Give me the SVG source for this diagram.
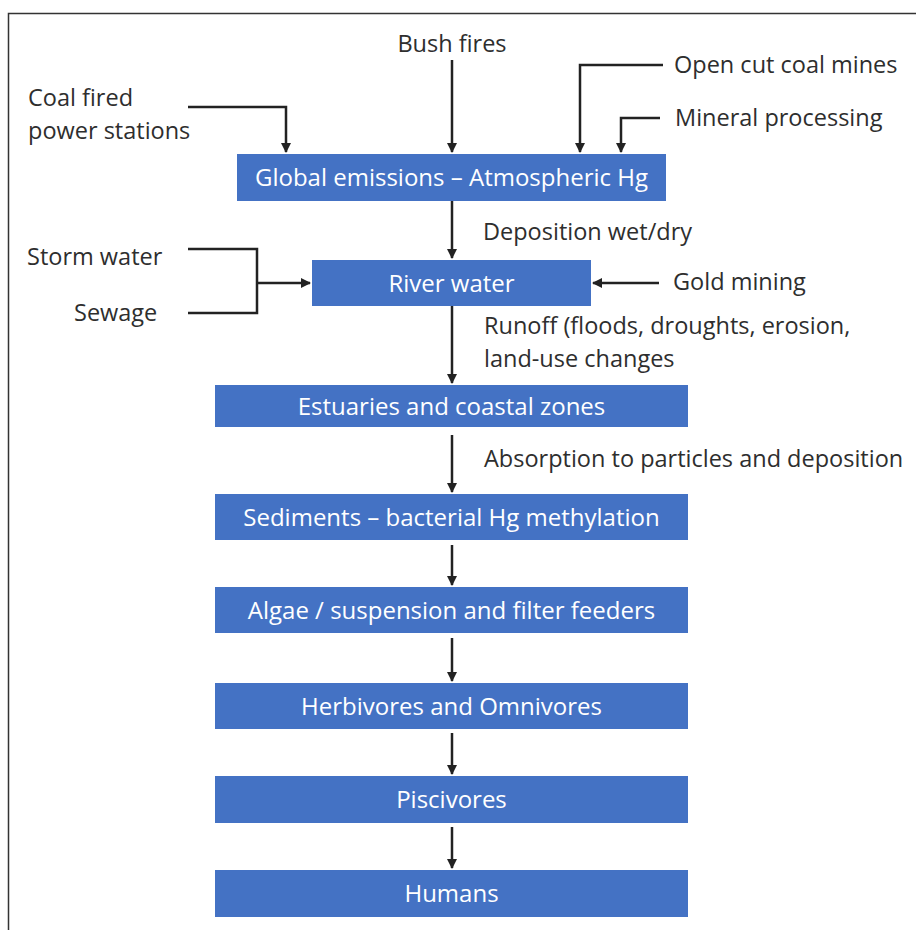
<svg xmlns="http://www.w3.org/2000/svg" width="916" height="930" viewBox="0 0 916 930">
<style>
.box{fill:#4472C4;}
.bt{font-family:"Open Sans","Liberation Sans",sans-serif;font-size:24px;fill:#fff;text-anchor:middle;}
.lb{font-family:"Open Sans","Liberation Sans",sans-serif;font-size:23.5px;fill:#2e2e2e;}
.cn{fill:none;stroke:#222;stroke-width:2.5;}
</style>
<defs>
<marker id="ah" viewBox="0 0 10 10" refX="9" refY="5" markerWidth="4" markerHeight="4" orient="auto" markerUnits="strokeWidth">
<path d="M0,0 L10,5 L0,10 z" fill="#222"/>
</marker>
</defs>
<rect width="916" height="930" fill="#fff"/>
<path d="M8.5,930 V13.5 H916" fill="none" stroke="#333" stroke-width="1.5"/>

<g id="connectors">
<path class="cn" d="M452,60 V152" marker-end="url(#ah)"/>
<path class="cn" d="M188,107 H286 V152" marker-end="url(#ah)"/>
<path class="cn" d="M663,65 H580 V152" marker-end="url(#ah)"/>
<path class="cn" d="M660,118 H621 V152" marker-end="url(#ah)"/>
<path class="cn" d="M452,201 V258" marker-end="url(#ah)"/>
<path class="cn" d="M188,249 H257 V313 H188"/>
<path class="cn" d="M257,283 H310" marker-end="url(#ah)"/>
<path class="cn" d="M659,283 H593" marker-end="url(#ah)"/>
<path class="cn" d="M452,306 V383" marker-end="url(#ah)"/>
<path class="cn" d="M452,435 V492" marker-end="url(#ah)"/>
<path class="cn" d="M452,545 V585" marker-end="url(#ah)"/>
<path class="cn" d="M452,638 V681" marker-end="url(#ah)"/>
<path class="cn" d="M452,733 V774" marker-end="url(#ah)"/>
<path class="cn" d="M452,827 V868" marker-end="url(#ah)"/>
</g>

<g id="labels">
<text class="lb" x="452" y="52" text-anchor="middle">Bush fires</text>
<text class="lb" x="28" y="106">Coal fired</text>
<text class="lb" x="28" y="139">power stations</text>
<text class="lb" x="674" y="73">Open cut coal mines</text>
<text class="lb" x="675" y="126">Mineral processing</text>
<text class="lb" x="483" y="240">Deposition wet/dry</text>
<text class="lb" x="27" y="265">Storm water</text>
<text class="lb" x="74" y="321">Sewage</text>
<text class="lb" x="673" y="290">Gold mining</text>
<text class="lb" x="484" y="334">Runoff (floods, droughts, erosion,</text>
<text class="lb" x="484" y="367">land-use changes</text>
<text class="lb" x="484" y="467">Absorption to particles and deposition</text>
</g>

<g id="n-global"><rect class="box" x="237" y="154" width="429" height="47"/><text class="bt" x="451.5" y="186">Global emissions – Atmospheric Hg</text></g>
<g id="n-river"><rect class="box" x="312" y="260" width="279" height="46"/><text class="bt" x="451.5" y="291.5">River water</text></g>
<g id="n-estuaries"><rect class="box" x="215" y="385" width="473" height="42"/><text class="bt" x="451.5" y="414.5">Estuaries and coastal zones</text></g>
<g id="n-sediments"><rect class="box" x="215" y="494" width="473" height="46"/><text class="bt" x="451.5" y="525.5">Sediments – bacterial Hg methylation</text></g>
<g id="n-algae"><rect class="box" x="215" y="587" width="473" height="46"/><text class="bt" x="451.5" y="618.5">Algae / suspension and filter feeders</text></g>
<g id="n-herbivores"><rect class="box" x="215" y="683" width="473" height="46"/><text class="bt" x="451.5" y="714.5">Herbivores and Omnivores</text></g>
<g id="n-piscivores"><rect class="box" x="215" y="776" width="473" height="47"/><text class="bt" x="451.5" y="808">Piscivores</text></g>
<g id="n-humans"><rect class="box" x="215" y="870" width="473" height="47"/><text class="bt" x="451.5" y="902">Humans</text></g>
</svg>
